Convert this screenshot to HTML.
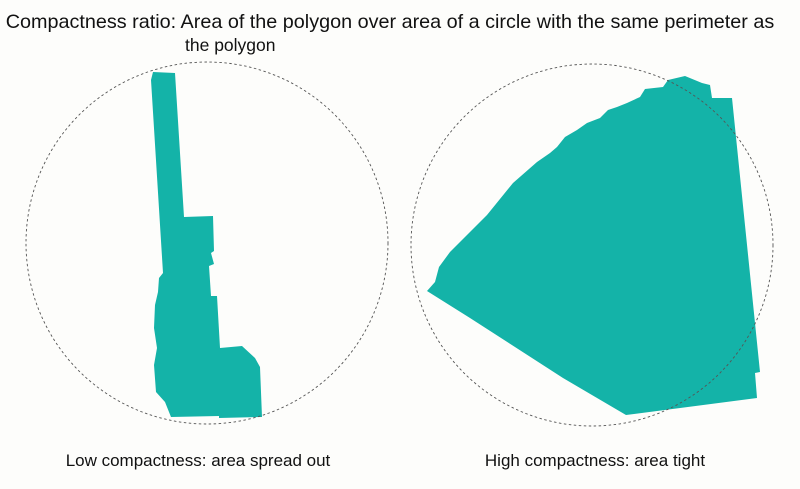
<!DOCTYPE html>
<html><head><meta charset="utf-8"><style>
html,body{margin:0;padding:0;background:#fdfdfb;}
body{width:800px;height:484px;overflow:hidden;font-family:"Liberation Sans",sans-serif;}
</style></head><body>
<svg width="800" height="484" viewBox="0 0 800 484">
<rect width="800" height="484" fill="#fdfdfb"/>
<text x="390" y="28" font-size="19.8" text-anchor="middle" fill="#111">Compactness ratio: Area of the polygon over area of a circle with the same perimeter as</text>
<text x="185" y="51" font-size="17.5" fill="#111">the polygon</text>
<polygon fill="#14b3a8" points="153,72 175,73 184,217 213,216 214,251 211,253 214,264 209,266 211,296 217,296 220,348 242,346 255,358 260,367 262,417 219,418 219,416 171,417 165,402 156,392 154,365 157,348 154,328 155,305 158,292 159,278 163,273 151,80"/>
<circle cx="207" cy="243" r="181" fill="none" stroke="#555" stroke-width="0.9" stroke-dasharray="2.5,2.5"/>
<polygon fill="#14b3a8" points="427,291 435,282 439,267 450,252 487,215 513,183 537,162 550,153 557,147 565,137 577,130 587,123 600,118 608,110 617,107 627,103 640,97 645,89 663,87 668,80 685,76 702,83 710,85 712,98 732,98 760,372 755,373 757,398 626,415 563,378 470,318"/>
<circle cx="592" cy="245" r="181" fill="none" stroke="#555" stroke-width="0.9" stroke-dasharray="2.5,2.5"/>
<text x="198" y="466" font-size="17" text-anchor="middle" fill="#111">Low compactness: area spread out</text>
<text x="595" y="466" font-size="17" text-anchor="middle" fill="#111">High compactness: area tight</text>
</svg>
</body></html>
